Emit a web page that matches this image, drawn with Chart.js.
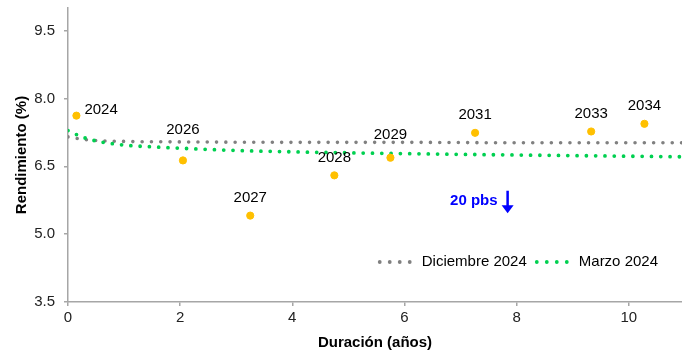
<!DOCTYPE html>
<html lang="es">
<head>
<meta charset="UTF-8">
<script src="https://cdn.jsdelivr.net/npm/chart.js"></script>
<title>Curva de rendimientos</title>
<style>
  html, body { margin: 0; padding: 0; background: #fff; }
  #wrap { position: relative; width: 682px; height: 352px; }
</style>
</head>
<body>
<div id="wrap"><canvas id="grafico"></canvas></div>

<script>
// bonos (año de vencimiento), duración y rendimiento
const categorias = ['2024', '2026', '2027', '2028', '2029', '2031', '2033', '2034'];
const duracion   = [0.15, 2.05, 3.25, 4.75, 5.75, 7.26, 9.33, 10.28];
const rendimiento = [7.62, 6.63, 5.41, 6.30, 6.69, 7.24, 7.27, 7.44];

// curva ajustada diciembre 2024
const dicX = [0, 0.25, 0.5, 1, 2, 4, 6, 8, 11];
const dicY = [7.15, 7.10, 7.07, 7.05, 7.04, 7.03, 7.03, 7.02, 7.02];

// curva ajustada marzo 2024
const marX = [0, 0.25, 0.5, 1, 1.5, 2, 3, 4, 6, 8, 11];
const marY = [7.29, 7.15, 7.06, 6.97, 6.93, 6.90, 6.85, 6.82, 6.78, 6.75, 6.71];

const xTicks = [0, 2, 4, 6, 8, 10];
const yTicks = [3.5, 5.0, 6.5, 8.0, 9.5];

const fuente = 'Liberation Sans, Arial, sans-serif';

function sinPadding(s) {
    s.paddingTop = 0; s.paddingBottom = 0;
    s.paddingLeft = 0; s.paddingRight = 0;
}

// etiquetas de cada punto
const etiquetasPlugin = {
    id: 'etiquetas',
    afterDatasetsDraw(chart) {
        const ctx = chart.ctx;
        const meta = chart.getDatasetMeta(0);
        const desplaz = { '2026': -31, '2029': -23 };
        ctx.save();
        ctx.font = '15px ' + fuente;
        ctx.fillStyle = '#000';
        ctx.textBaseline = 'middle';
        meta.data.forEach(function (p, i) {
            const txt = categorias[i];
            if (txt === '2024') {
                ctx.textAlign = 'left';
                ctx.fillText(txt, p.x + 8, p.y - 6);
            } else {
                ctx.textAlign = 'center';
                ctx.fillText(txt, p.x, p.y + (desplaz[txt] || -17.5));
            }
        });
        ctx.restore();
    }
};

// leyenda punteada y anotacion de 20 pbs
const extrasPlugin = {
    id: 'extras',
    afterDraw(chart) {
        const ctx = chart.ctx;
        const area = chart.chartArea;
        ctx.save();
        ctx.font = '15px ' + fuente;
        ctx.textBaseline = 'middle';
        ctx.textAlign = 'left';
        const items = [chart.data.datasets[1], chart.data.datasets[2]];
        const yL = area.bottom - 40;
        let x = area.right - 24;
        const anchoDots = 30, sep = 12, gap = 10;
        const pos = [];
        for (let k = items.length - 1; k >= 0; k--) {
            const w = ctx.measureText(items[k].label).width;
            x -= w;
            pos[k] = { tx: x };
            x -= sep + anchoDots;
            pos[k].dx = x;
            x -= gap;
        }
        items.forEach(function (ds, k) {
            ctx.fillStyle = ds.borderColor;
            for (let j = 0; j < 4; j++) {
                ctx.beginPath();
                ctx.arc(pos[k].dx + j * 10, yL, 1.9, 0, Math.PI * 2);
                ctx.fill();
            }
            ctx.fillStyle = '#000';
            ctx.fillText(ds.label, pos[k].tx, yL);
        });

        // anotacion
        const sx = chart.scales.x, sy = chart.scales.y;
        const ax = sx.getPixelForValue(7.84);
        const y1 = sy.getPixelForValue(5.96);
        const y2 = sy.getPixelForValue(5.46);
        ctx.fillStyle = '#0000FF';
        ctx.strokeStyle = '#0000FF';
        ctx.font = 'bold 15px ' + fuente;
        ctx.textAlign = 'right';
        ctx.fillText('20 pbs', ax - 10, (y1 + y2) / 2 - 1);
        ctx.lineWidth = 2.5;
        ctx.beginPath();
        ctx.moveTo(ax, y1);
        ctx.lineTo(ax, y2 - 6);
        ctx.stroke();
        ctx.beginPath();
        ctx.moveTo(ax - 6, y2 - 8);
        ctx.lineTo(ax + 6, y2 - 8);
        ctx.lineTo(ax, y2);
        ctx.closePath();
        ctx.fill();
        ctx.restore();
    }
};

const puntos = duracion.map((d, i) => ({ x: d, y: rendimiento[i] }));
const curvaDic = dicX.map((d, i) => ({ x: d, y: dicY[i] }));
const curvaMar = marX.map((d, i) => ({ x: d, y: marY[i] }));

const config = {
    type: 'scatter',
    data: {
        datasets: [{
            label: 'Bonos',
            data: puntos,
            backgroundColor: '#FFC000',
            borderColor: '#FFC000',
            pointRadius: 3.6,
            order: 0
        }, {
            label: 'Diciembre 2024',
            type: 'line',
            data: curvaDic,
            borderColor: '#808080',
            borderWidth: 3.6,
            borderDash: [0, 9.3],
            borderCapStyle: 'round',
            cubicInterpolationMode: 'monotone',
            pointRadius: 0,
            fill: false,
            order: 2
        }, {
            label: 'Marzo 2024',
            type: 'line',
            data: curvaMar,
            borderColor: '#00D050',
            borderWidth: 3.8,
            borderDash: [0, 9.3],
            borderCapStyle: 'round',
            cubicInterpolationMode: 'monotone',
            pointRadius: 0,
            fill: false,
            order: 1
        }]
    },
    options: {
        responsive: true,
        maintainAspectRatio: false,
        animation: false,
        layout: { autoPadding: false, padding: { top: 8, right: 0, left: 0, bottom: 0 } },
        plugins: {
            legend: { display: false },
            tooltip: { enabled: false }
        },
        scales: {
            x: {
                type: 'linear',
                min: 0,
                max: 10.95,
                afterBuildTicks: s => { s.ticks = xTicks.map(v => ({ value: v })); },
                afterFit: s => { s.height = 50; sinPadding(s); },
                grid: { drawOnChartArea: false, drawTicks: true, tickLength: 4, color: '#A6A6A6', lineWidth: 1.5 },
                border: { color: '#A6A6A6', width: 1.5 },
                ticks: { color: '#222', font: { family: fuente, size: 15 }, padding: 3, maxRotation: 0 },
                title: { display: true, text: 'Duración (años)', color: '#000', font: { family: fuente, size: 15, weight: 'bold' }, padding: { top: 0, bottom: 0 } }
            },
            y: {
                min: 3.5,
                max: 10,
                afterBuildTicks: s => { s.ticks = yTicks.map(v => ({ value: v })); },
                afterFit: s => { s.width = 68; sinPadding(s); },
                grid: { drawOnChartArea: false, drawTicks: true, tickLength: 4, color: '#A6A6A6', lineWidth: 1.5 },
                border: { color: '#A6A6A6', width: 1.5 },
                ticks: { color: '#222', font: { family: fuente, size: 15 }, padding: 9, callback: v => v.toFixed(1) },
                title: { display: true, text: 'Rendimiento (%)', color: '#000', font: { family: fuente, size: 15, weight: 'bold' }, padding: { top: 13, bottom: 0 } }
            }
        }
    },
    plugins: [etiquetasPlugin, extrasPlugin]
};

new Chart(document.getElementById('grafico'), config);
</script>
</body>
</html>
